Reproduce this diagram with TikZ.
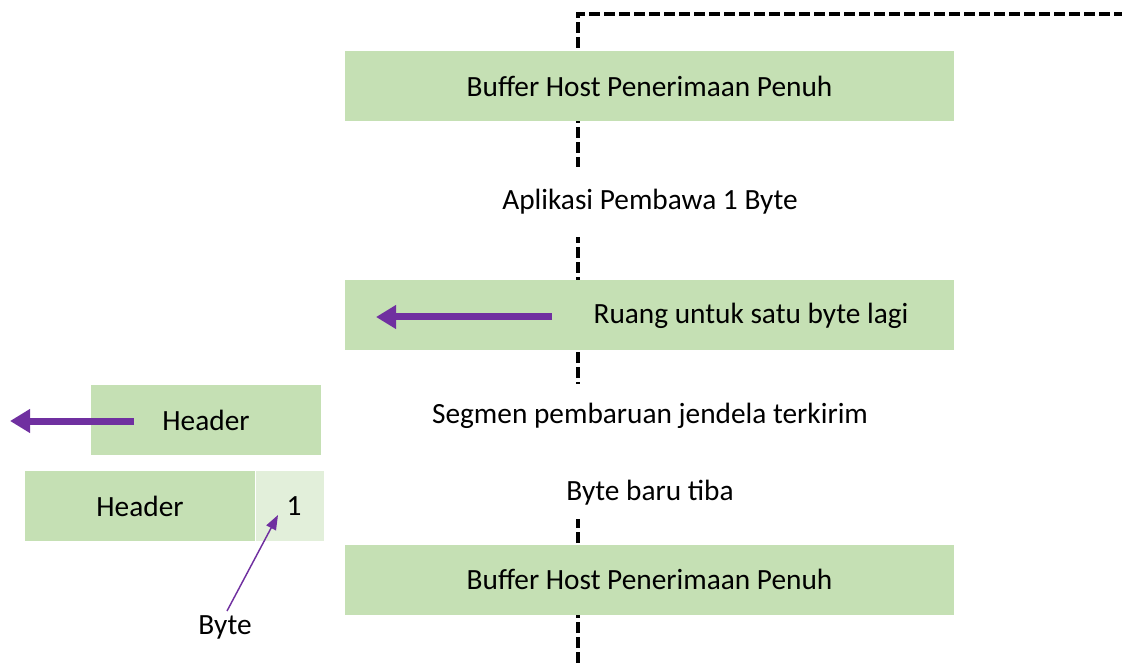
\documentclass[tikz,border=0pt]{standalone}
\usepackage{fontspec}
\setmainfont{Carlito}
\usetikzlibrary{arrows.meta}
\definecolor{boxgreen}{HTML}{C5E0B4}
\definecolor{lightgreen}{HTML}{E2EFDA}
\definecolor{arrowpurple}{HTML}{7030A0}
\begin{document}
\begin{tikzpicture}[x=0.75pt,y=-0.75pt,
  txt/.style={font=\fontsize{22}{26}\selectfont},
  gbox/.style={txt,fill=boxgreen,draw=none,inner sep=0pt,minimum height=52.5pt},
  label/.style={txt,fill=white,draw=none,inner sep=0pt,minimum height=52.5pt},
  plain/.style={txt,draw=none,inner sep=0pt},
  dashline/.style={line width=2.4pt,dash pattern=on 8.25pt off 3pt},
  bigarrow/.style={draw=arrowpurple,line width=5.25pt,-{Triangle[length=15pt,width=17pt]}},
  thinarrow/.style={draw=arrowpurple,line width=1.1pt,-{Triangle[length=11pt,width=8pt]}}]
\useasboundingbox (0,0) rectangle (1122,663);
% dashed timeline
\coordinate (lbot) at (578,663);
\coordinate (ltop) at (578,14);
\coordinate (lright) at (1122,14);
\draw[dashline] (lbot) -- (ltop) -- (lright);
% main boxes
\node[gbox,minimum width=456.75pt] (b1) at (649.5,86.5) {Buffer Host Penerimaan Penuh};
\node[label,minimum width=300pt] (l1) at (650,202) {Aplikasi Pembawa 1 Byte};
\node[gbox,minimum width=456.75pt] (b2) at (649.5,315) {};
\node[plain] (t2) at (751,316) {Ruang untuk satu byte lagi};
\coordinate (a2s) at (552,317);
\coordinate (a2e) at (376,317);
\draw[bigarrow] (a2s) -- (a2e);
\node[label,minimum width=460pt,minimum height=65pt] (l2) at (650,427) {};
\node[plain] at (650,416) {Segmen pembaruan jendela terkirim};
\node[label,minimum width=300pt,minimum height=41pt] (l3) at (650,492) {};
\node[plain] (l3t) at (650,493) {Byte baru tiba};
\node[gbox,minimum width=456.75pt] (b3) at (649.5,579.5) {Buffer Host Penerimaan Penuh};
% left side
\node[gbox,minimum width=172.5pt] (h1) at (206,420) {};
\node[plain] (h1t) at (206,420) {Header};
\coordinate (a1s) at (134,421);
\coordinate (a1e) at (10,421);
\draw[bigarrow] (a1s) -- (a1e);
\node[gbox,minimum width=172.5pt] (h2) at (140,506) {Header};
\node[fill=lightgreen,draw=none,inner sep=0pt,minimum width=51pt,minimum height=52.5pt,anchor=west] (one) at (h2.east) {};
\node[plain] (onet) at (294,506) {1};
\node[plain] (byte) at (225,627) {Byte};
\coordinate (bstart) at (227,611);
\coordinate (btip) at (278,515);
\draw[thinarrow] (bstart) -- (btip);
\end{tikzpicture}
\end{document}
